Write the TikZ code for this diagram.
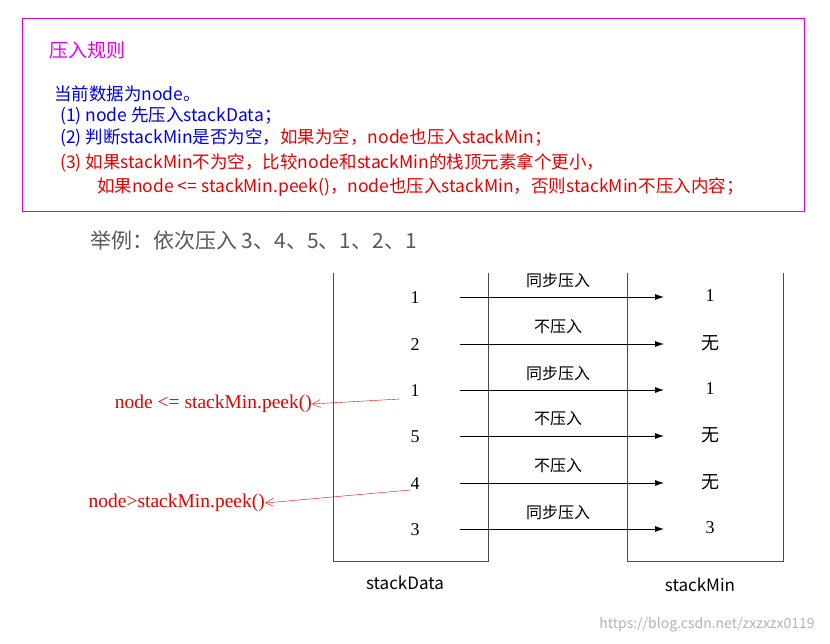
\documentclass[tikz,border=0pt]{standalone}
\usepackage{fontspec}
\setmainfont{Noto Sans CJK SC}
\newfontfamily\serifnum{Liberation Serif}
\usetikzlibrary{arrows.meta}
\definecolor{ruleblue}{RGB}{0,0,230}
\definecolor{rulered}{RGB}{230,0,0}
\definecolor{rulemag}{RGB}{230,0,230}
\tikzset{
  txt/.style={anchor=west,inner sep=0pt,font=\fontsize{17.5}{19}\selectfont},
  num/.style={inner sep=0pt,font=\serifnum\fontsize{18}{20}\selectfont},
  lbl/.style={inner sep=0pt,font=\fontsize{16}{18}\selectfont},
  push/.style={-{Latex[length=9pt,width=6pt]},thick},
  note/.style={inner sep=0pt,text=rulered,font=\serifnum\fontsize{19.5}{21}\selectfont},
  noteline/.style={rulered,-{Straight Barb[length=8pt,width=8pt]}}
}
\begin{document}
\begin{tikzpicture}[x=1pt,y=-1pt]
\useasboundingbox (0,0) rectangle (830,643);
\draw[rulemag] (22,18) rectangle (804,211);

\node[txt,text=rulemag,font=\fontsize{19}{21}\selectfont] (title) at (49,50) {压入规则};
\node[txt,text=ruleblue] (l0) at (54,94) {当前数据为node。};
\node[txt,text=ruleblue] (l1) at (60,116) {(1) node 先压入stackData；};
\node[txt,text=ruleblue] (l2) at (60,138) {(2) 判断stackMin是否为空，\textcolor{rulered}{如果为空，node也压入stackMin；}};
\node[txt,text=rulered] (l3) at (60,163) {(3) 如果stackMin不为空，比较node和stackMin的栈顶元素拿个更小，};
\node[txt,text=rulered] (l4) at (97,187) {如果node <= stackMin.peek()，node也压入stackMin，否则stackMin不压入内容；};

\node[txt,text=black!65,font=\fontsize{21}{23}\selectfont] (ex) at (90,240) {举例：依次压入 3、4、5、1、2、1};

% two stacks
\draw[thick,black!70] (333,273) -- (333,561) -- (488,561) -- (488,273);
\draw[thick,black!70] (627,273) -- (627,561) -- (783,561) -- (783,273);

\foreach \y/\d/\m/\t [count=\i] in {298/1/1/同步压入,345/2/{\normalfont 无}/不压入,391/1/1/同步压入,437/5/{\normalfont 无}/不压入,484/4/{\normalfont 无}/不压入,530/3/3/同步压入}{
  \node[num] (d\i) at (415,\y) {\d};
  \node[num] (m\i) at (710,\y-2) {\m};
  \coordinate (s\i) at (460,\y-1);
  \coordinate (e\i) at (664,\y-1);
  \draw[push] (s\i) -- (e\i);
  \node[lbl] (t\i) at (558,\y-18) {\t};
}

\node[inner sep=0pt,font=\fontsize{17}{19}\selectfont] (sd) at (405,583) {stackData};
\node[inner sep=0pt,font=\fontsize{17}{19}\selectfont] (sm) at (700,585) {stackMin};

\node[note,anchor=east] (n1) at (312,404) {node <= stackMin.peek()};
\node[note,anchor=east] (n2) at (265,503) {node>stackMin.peek()};
\draw[noteline] (400,399) -- (n1.east);
\draw[noteline] (410,490) -- (n2.east);

\node[inner sep=0pt,text=black!30,font=\fontsize{14}{16}\selectfont] (wm) at (707,625) {https://blog.csdn.net/zxzxzx0119};
\end{tikzpicture}
\end{document}
